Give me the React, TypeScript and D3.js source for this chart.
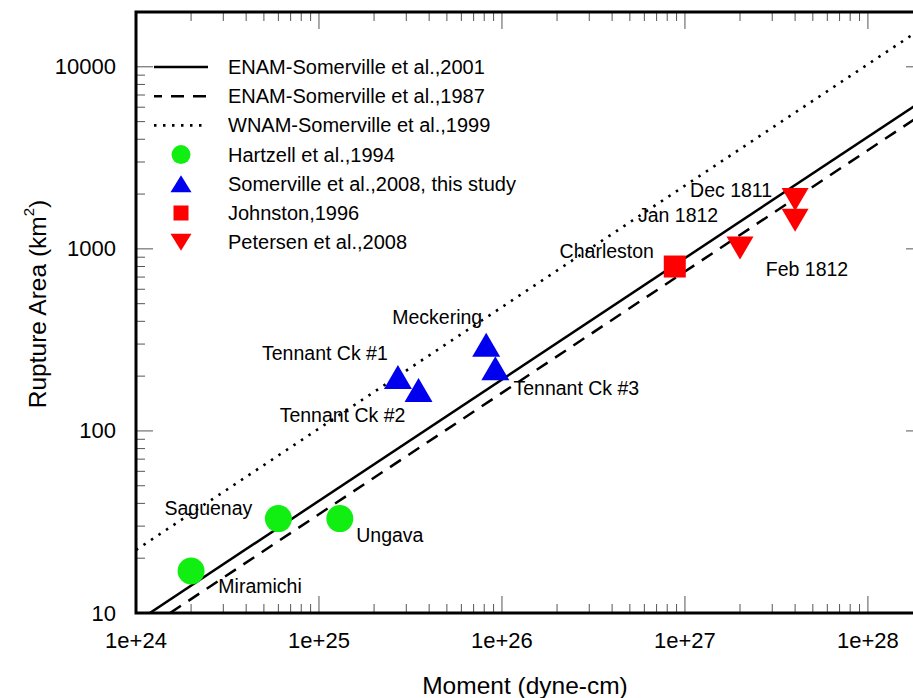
import React from "react";
import * as d3 from "d3";

// ---------- data ----------
const MOMENT_TICKS = [1e24, 1e25, 1e26, 1e27, 1e28];
const MOMENT_TICK_LABELS = ["1e+24", "1e+25", "1e+26", "1e+27", "1e+28"];
const AREA_TICKS = [10, 100, 1000, 10000];
const AREA_TICK_LABELS = ["10", "100", "1000", "10000"];

// scaling-relation lines: [moment, area] endpoints
const LINE_ENAM2001: [number, number][] = [[1.19e24, 10], [2e28, 6550]];
const LINE_ENAM1987: [number, number][] = [[1.535e24, 10], [2e28, 5530]];
const LINE_WNAM1999: [number, number][] = [[1e24, 22.2], [2e28, 16400]];

const HARTZELL_NAMES = ["Miramichi", "Saguenay", "Ungava"];
const HARTZELL_MOMENT = [2e24, 6e24, 1.3e25];
const HARTZELL_AREA = [17, 33, 33];

const SOMERVILLE_NAMES = ["Tennant Ck #1", "Tennant Ck #2", "Meckering", "Tennant Ck #3"];
const SOMERVILLE_MOMENT = [2.7e25, 3.5e25, 8.2e25, 9.2e25];
const SOMERVILLE_AREA = [198, 168, 297, 221];

const JOHNSTON_NAMES = ["Charleston"];
const JOHNSTON_MOMENT = [8.8e26];
const JOHNSTON_AREA = [800];

const PETERSEN_NAMES = ["Feb 1812", "Dec 1811", "Jan 1812"];
const PETERSEN_MOMENT = [2e27, 4e27, 4e27];
const PETERSEN_AREA = [1010, 1870, 1435];

const LEGEND_LABELS = [
  "ENAM-Somerville et al.,2001",
  "ENAM-Somerville et al.,1987",
  "WNAM-Somerville et al.,1999",
  "Hartzell et al.,1994",
  "Somerville et al.,2008, this study",
  "Johnston,1996",
  "Petersen et al.,2008",
];

// ---------- layout / style ----------
const W = 913;
const H = 698;
const M = { left: 136, top: 12, right: 923, bottom: 613 };
const FONT = "'Liberation Sans', Arial, Helvetica, sans-serif";
const GREEN = "#11ee11";
const BLUE = "#0000ee";
const RED = "#ff0000";

// label offsets (px) from the marker centre
const LABEL_OFFSETS: Record<string, [number, number]> = {
  Miramichi: [69, 15],
  Saguenay: [-70, -11],
  Ungava: [50, 16],
  "Tennant Ck #1": [-73, -24],
  "Tennant Ck #2": [-76, 25],
  Meckering: [-49, -28],
  "Tennant Ck #3": [81, 20],
  Charleston: [-68, -16],
  "Feb 1812": [67, 21],
  "Dec 1811": [-64, -9],
  "Jan 1812": [-117, -5],
};

const triUp = (w: number, h: number) => `M0,${-h / 2}L${w / 2},${h / 2}L${-w / 2},${h / 2}Z`;
const triDown = (w: number, h: number) => `M${-w / 2},${-h / 2}L${w / 2},${-h / 2}L0,${h / 2}Z`;
const square = (s: number) => `M${-s / 2},${-s / 2}h${s}v${s}h${-s}Z`;

export default function App() {
  const x = d3.scaleLog().domain([1e24, 2e28]).range([M.left, M.right]);
  const y = d3.scaleLog().domain([10, 20000]).range([M.bottom, M.top]);

  const line = d3
    .line<[number, number]>()
    .x((d) => x(d[0]))
    .y((d) => y(d[1]));

  // minor ticks
  const xMinor: number[] = [];
  for (let e = 24; e <= 28; e++) for (let k = 1; k <= 9; k++) {
    const v = k * Math.pow(10, e);
    if (v >= 1e24 && v <= 2e28) xMinor.push(v);
  }
  const yMinor: number[] = [];
  for (let e = 1; e <= 4; e++) for (let k = 1; k <= 9; k++) {
    const v = k * Math.pow(10, e);
    if (v >= 10 && v <= 20000) yMinor.push(v);
  }
  const isMajor = (v: number) => Math.abs(Math.log10(v) - Math.round(Math.log10(v))) < 1e-9;

  const tickColor = "#555";
  const majorLen = 17;
  const minorLen = 9;

  const points: { name: string; m: number; a: number; kind: string }[] = [];
  HARTZELL_NAMES.forEach((n, i) => points.push({ name: n, m: HARTZELL_MOMENT[i], a: HARTZELL_AREA[i], kind: "circle" }));
  SOMERVILLE_NAMES.forEach((n, i) => points.push({ name: n, m: SOMERVILLE_MOMENT[i], a: SOMERVILLE_AREA[i], kind: "up" }));
  JOHNSTON_NAMES.forEach((n, i) => points.push({ name: n, m: JOHNSTON_MOMENT[i], a: JOHNSTON_AREA[i], kind: "square" }));
  PETERSEN_NAMES.forEach((n, i) => points.push({ name: n, m: PETERSEN_MOMENT[i], a: PETERSEN_AREA[i], kind: "down" }));

  const marker = (kind: string, big: boolean) => {
    if (kind === "circle") return <circle r={big ? 13.5 : 9.5} fill={GREEN} />;
    if (kind === "up") return <path d={big ? triUp(28, 24) : triUp(21, 17)} fill={BLUE} />;
    if (kind === "square") return <path d={big ? square(22) : square(15)} fill={RED} />;
    return <path d={big ? triDown(27, 23) : triDown(21, 17)} fill={RED} />;
  };

  const legendKinds = ["solid", "dash", "dot", "circle", "up", "square", "down"];
  const legendY0 = 67;
  const legendDy = 29.2;

  const dashOf = (k: string) => (k === "dash" ? "13,9" : k === "dot" ? "2.5,6.5" : undefined);

  return (
    <div style={{ position: "absolute", left: 0, top: 0 }}>
      <svg width={W} height={H} style={{ display: "block", background: "#fff" }} fontFamily={FONT}>
        <defs>
          <clipPath id="plotClip">
            <rect x={M.left} y={M.top} width={M.right - M.left} height={M.bottom - M.top} />
          </clipPath>
        </defs>

        {/* ticks */}
        <g stroke={tickColor} strokeWidth={1}>
          {xMinor.map((v, i) => {
            const L = isMajor(v) ? majorLen : minorLen;
            return (
              <g key={"xm" + i}>
                <line x1={x(v)} x2={x(v)} y1={M.bottom} y2={M.bottom - L} />
                <line x1={x(v)} x2={x(v)} y1={M.top} y2={M.top + L} />
              </g>
            );
          })}
          {yMinor.map((v, i) => {
            const L = isMajor(v) ? majorLen : minorLen;
            return (
              <g key={"ym" + i}>
                <line x1={M.left} x2={M.left + L} y1={y(v)} y2={y(v)} />
                <line x1={M.right} x2={M.right - L} y1={y(v)} y2={y(v)} />
              </g>
            );
          })}
        </g>

        {/* lines */}
        <g clipPath="url(#plotClip)" fill="none" stroke="#000">
          <path d={line(LINE_ENAM2001) || ""} strokeWidth={2.5} />
          <path d={line(LINE_ENAM1987) || ""} strokeWidth={2.5} strokeDasharray={dashOf("dash")} />
          <path d={line(LINE_WNAM1999) || ""} strokeWidth={2.6} strokeDasharray={dashOf("dot")} />
        </g>

        {/* frame */}
        <rect
          x={M.left}
          y={M.top}
          width={M.right - M.left}
          height={M.bottom - M.top}
          fill="none"
          stroke="#000"
          strokeWidth={3}
        />

        {/* points */}
        <g clipPath="url(#plotClip)">
          {points.map((p, i) => (
            <g key={"p" + i} transform={`translate(${x(p.m)},${y(p.a)})`}>
              {marker(p.kind, true)}
            </g>
          ))}
        </g>

        {/* point labels */}
        <g fontSize={19.5} fill="#000" textAnchor="middle">
          {points.map((p, i) => {
            const off = LABEL_OFFSETS[p.name] || [0, 0];
            return (
              <text key={"l" + i} x={x(p.m) + off[0]} y={y(p.a) + off[1]} dominantBaseline="central">
                {p.name}
              </text>
            );
          })}
        </g>

        {/* legend */}
        <g>
          {legendKinds.map((k, i) => {
            const ly = legendY0 + i * legendDy;
            const isLine = k === "solid" || k === "dash" || k === "dot";
            return (
              <g key={"lg" + i}>
                {isLine ? (
                  <line
                    x1={154}
                    x2={208}
                    y1={ly}
                    y2={ly}
                    stroke="#000"
                    strokeWidth={k === "dot" ? 2.6 : 2.5}
                    strokeDasharray={dashOf(k)}
                    strokeDashoffset={k === "dash" ? 5 : 0}
                  />
                ) : (
                  <g transform={`translate(181,${ly})`}>{marker(k, false)}</g>
                )}
                <text x={228} y={ly} fontSize={20} dominantBaseline="central">
                  {LEGEND_LABELS[i]}
                </text>
              </g>
            );
          })}
        </g>

        {/* axis tick labels */}
        <g fontSize={22} fill="#000">
          {AREA_TICKS.map((v, i) => (
            <text key={"yt" + i} x={116} y={y(v)} textAnchor="end" dominantBaseline="central">
              {AREA_TICK_LABELS[i]}
            </text>
          ))}
          {MOMENT_TICKS.map((v, i) => (
            <text key={"xt" + i} x={x(v)} y={640} textAnchor="middle" dominantBaseline="central">
              {MOMENT_TICK_LABELS[i]}
            </text>
          ))}
        </g>

        {/* axis titles */}
        <text x={525} y={685} fontSize={24.5} textAnchor="middle" dominantBaseline="central">
          Moment (dyne-cm)
        </text>
        <text
          transform="translate(37,304) rotate(-90)"
          fontSize={24.5}
          textAnchor="middle"
          dominantBaseline="central"
        >
          Rupture Area (km
          <tspan fontSize={15} dy={-9}>2</tspan>
          <tspan dy={9}>)</tspan>
        </text>
      </svg>
    </div>
  );
}
